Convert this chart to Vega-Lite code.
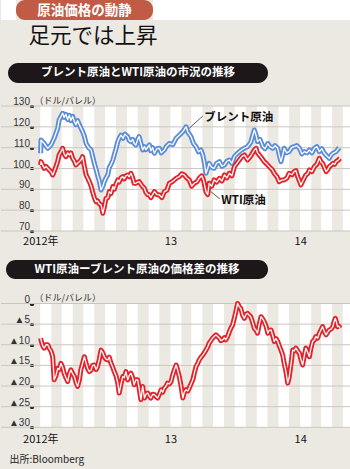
{
"$schema": "https://vega.github.io/schema/vega-lite/v6.json",
"padding": 0,
"autosize": {"type": "pad"},
"spacing": 0,
"bounds": "full",
"config": {"background": "#ece9e2", "view": {"stroke": null}, "concat": {"spacing": 0}, "text": {"font": "Noto Sans CJK JP"}},
"datasets": {
"stripes": [
{"s":"2012-01-01","e":"2012-02-01"},{"s":"2012-03-01","e":"2012-04-01"},{"s":"2012-05-01","e":"2012-06-01"},{"s":"2012-07-01","e":"2012-08-01"},{"s":"2012-09-01","e":"2012-10-01"},{"s":"2012-11-01","e":"2012-12-01"},
{"s":"2013-01-01","e":"2013-02-01"},{"s":"2013-03-01","e":"2013-04-01"},{"s":"2013-05-01","e":"2013-06-01"},{"s":"2013-07-01","e":"2013-08-01"},{"s":"2013-09-01","e":"2013-10-01"},{"s":"2013-11-01","e":"2013-12-01"},
{"s":"2014-01-01","e":"2014-02-01"},{"s":"2014-03-01","e":"2014-04-01"},{"s":"2014-05-01","e":"2014-06-01"}],
"g1": [{"g":70},{"g":80},{"g":90},{"g":100},{"g":110},{"g":120},{"g":130}],
"g2": [{"g":0},{"g":-5},{"g":-10},{"g":-15},{"g":-20},{"g":-25},{"g":-30}],
"brent": [
{"d":"2012-01-02","v":107.3},{"d":"2012-01-03","v":113.7},{"d":"2012-01-12","v":112},{"d":"2012-01-22","v":109.7},{"d":"2012-01-31","v":111.3},{"d":"2012-02-09","v":114.5},{"d":"2012-02-19","v":119.3},{"d":"2012-02-23","v":123.3},{"d":"2012-03-04","v":126.5},{"d":"2012-03-08","v":124.5},{"d":"2012-03-13","v":126},{"d":"2012-03-18","v":123.5},{"d":"2012-03-23","v":125.5},{"d":"2012-03-27","v":123},{"d":"2012-04-01","v":125},{"d":"2012-04-06","v":122.5},{"d":"2012-04-10","v":121},{"d":"2012-04-15","v":123},{"d":"2012-04-20","v":120.9},{"d":"2012-04-24","v":119.5},{"d":"2012-04-29","v":117.7},{"d":"2012-05-04","v":115.5},{"d":"2012-05-09","v":112},{"d":"2012-05-16","v":110},{"d":"2012-05-23","v":108.9},{"d":"2012-05-27","v":106},{"d":"2012-06-01","v":102.5},{"d":"2012-06-06","v":99.5},{"d":"2012-06-10","v":96.9},{"d":"2012-06-15","v":94},{"d":"2012-06-20","v":89.7},{"d":"2012-06-25","v":91.5},{"d":"2012-06-29","v":93.7},{"d":"2012-07-04","v":95.5},{"d":"2012-07-09","v":97},{"d":"2012-07-13","v":100.5},{"d":"2012-07-18","v":102},{"d":"2012-07-23","v":104},{"d":"2012-07-27","v":106.5},{"d":"2012-08-01","v":109.5},{"d":"2012-08-06","v":112.9},{"d":"2012-08-10","v":114.5},{"d":"2012-08-15","v":116},{"d":"2012-08-21","v":114.5},{"d":"2012-08-26","v":116.5},{"d":"2012-09-03","v":115.3},{"d":"2012-09-07","v":113.5},{"d":"2012-09-12","v":112.9},{"d":"2012-09-17","v":114},{"d":"2012-09-21","v":112},{"d":"2012-09-26","v":111.3},{"d":"2012-10-01","v":114},{"d":"2012-10-05","v":115.3},{"d":"2012-10-10","v":112},{"d":"2012-10-15","v":108.9},{"d":"2012-10-20","v":110.5},{"d":"2012-10-24","v":109},{"d":"2012-11-03","v":111.3},{"d":"2012-11-07","v":108.5},{"d":"2012-11-12","v":110},{"d":"2012-11-17","v":107.3},{"d":"2012-11-24","v":109.5},{"d":"2012-12-01","v":109.7},{"d":"2012-12-06","v":107.5},{"d":"2012-12-15","v":108.9},{"d":"2012-12-20","v":110.5},{"d":"2012-12-29","v":112},
{"d":"2013-01-08","v":111.5},{"d":"2013-01-17","v":114.5},{"d":"2013-01-26","v":116},{"d":"2013-02-05","v":117.7},{"d":"2013-02-14","v":120},{"d":"2013-02-19","v":117.5},{"d":"2013-02-28","v":115.3},{"d":"2013-03-07","v":112},{"d":"2013-03-14","v":110.5},{"d":"2013-03-21","v":108},{"d":"2013-03-28","v":108.9},{"d":"2013-04-02","v":106.5},{"d":"2013-04-06","v":103.3},{"d":"2013-04-11","v":97.7},{"d":"2013-04-16","v":100},{"d":"2013-04-20","v":102.5},{"d":"2013-04-27","v":100.5},{"d":"2013-05-04","v":100.1},{"d":"2013-05-11","v":102.5},{"d":"2013-05-19","v":103.3},{"d":"2013-05-26","v":101},{"d":"2013-06-02","v":101.7},{"d":"2013-06-09","v":103.5},{"d":"2013-06-16","v":104.1},{"d":"2013-06-23","v":102.5},{"d":"2013-06-30","v":105.7},{"d":"2013-07-07","v":107},{"d":"2013-07-14","v":108.1},{"d":"2013-07-21","v":109},{"d":"2013-07-28","v":109.7},{"d":"2013-08-06","v":110.5},{"d":"2013-08-15","v":112.5},{"d":"2013-08-25","v":118.5},{"d":"2013-08-30","v":116},{"d":"2013-09-03","v":112.9},{"d":"2013-09-10","v":114},{"d":"2013-09-18","v":110.5},{"d":"2013-09-24","v":109.5},{"d":"2013-10-02","v":112},{"d":"2013-10-08","v":110.5},{"d":"2013-10-16","v":109.7},{"d":"2013-10-22","v":111},{"d":"2013-10-30","v":109.7},{"d":"2013-11-03","v":106.5},{"d":"2013-11-08","v":103.3},{"d":"2013-11-13","v":106.5},{"d":"2013-11-17","v":109.7},{"d":"2013-11-24","v":107.5},{"d":"2013-12-01","v":108.1},{"d":"2013-12-08","v":110},{"d":"2013-12-15","v":110.5},{"d":"2013-12-23","v":111},{"d":"2013-12-30","v":109.7},
{"d":"2014-01-06","v":107},{"d":"2014-01-13","v":108.1},{"d":"2014-01-20","v":107.5},{"d":"2014-01-27","v":108.9},{"d":"2014-02-03","v":107.5},{"d":"2014-02-10","v":109.7},{"d":"2014-02-17","v":110.5},{"d":"2014-02-24","v":108.1},{"d":"2014-03-03","v":109.5},{"d":"2014-03-10","v":107.3},{"d":"2014-03-17","v":106},{"d":"2014-03-24","v":104.9},{"d":"2014-03-29","v":106.5},{"d":"2014-04-03","v":107.3},{"d":"2014-04-12","v":108.1},{"d":"2014-04-21","v":110}],
"wti": [
{"d":"2012-01-02","v":101.7},{"d":"2012-01-03","v":103.3},{"d":"2012-01-08","v":101.5},{"d":"2012-01-12","v":100.1},{"d":"2012-01-17","v":101},{"d":"2012-01-26","v":99.3},{"d":"2012-01-31","v":98.5},{"d":"2012-02-05","v":96.9},{"d":"2012-02-09","v":98.5},{"d":"2012-02-14","v":100.9},{"d":"2012-02-19","v":103.5},{"d":"2012-02-23","v":106.5},{"d":"2012-02-28","v":108},{"d":"2012-03-04","v":109.7},{"d":"2012-03-08","v":107},{"d":"2012-03-13","v":105.7},{"d":"2012-03-18","v":107.5},{"d":"2012-03-23","v":106.5},{"d":"2012-03-27","v":107.5},{"d":"2012-04-01","v":104.9},{"d":"2012-04-06","v":103.5},{"d":"2012-04-10","v":101.7},{"d":"2012-04-15","v":102.5},{"d":"2012-04-20","v":103.3},{"d":"2012-04-24","v":104},{"d":"2012-04-29","v":105.7},{"d":"2012-05-04","v":101},{"d":"2012-05-09","v":96.9},{"d":"2012-05-13","v":95.5},{"d":"2012-05-18","v":93.7},{"d":"2012-05-23","v":91.5},{"d":"2012-05-27","v":88.9},{"d":"2012-06-01","v":86},{"d":"2012-06-06","v":84.1},{"d":"2012-06-10","v":84.5},{"d":"2012-06-15","v":83},{"d":"2012-06-20","v":82.5},{"d":"2012-06-25","v":78.5},{"d":"2012-06-29","v":81.5},{"d":"2012-07-04","v":85.7},{"d":"2012-07-09","v":86},{"d":"2012-07-13","v":88.9},{"d":"2012-07-18","v":88},{"d":"2012-07-23","v":91.3},{"d":"2012-07-27","v":90},{"d":"2012-08-01","v":92.5},{"d":"2012-08-06","v":94.5},{"d":"2012-08-10","v":93.5},{"d":"2012-08-15","v":95.5},{"d":"2012-08-20","v":96.1},{"d":"2012-08-24","v":95},{"d":"2012-08-29","v":96.5},{"d":"2012-09-03","v":96.9},{"d":"2012-09-07","v":96},{"d":"2012-09-12","v":97.7},{"d":"2012-09-17","v":95.5},{"d":"2012-09-21","v":92.9},{"d":"2012-09-26","v":92.9},{"d":"2012-10-01","v":93.5},{"d":"2012-10-05","v":93.7},{"d":"2012-10-10","v":92.5},{"d":"2012-10-15","v":91.3},{"d":"2012-10-20","v":90.5},{"d":"2012-10-24","v":88.5},{"d":"2012-10-29","v":87.5},{"d":"2012-11-03","v":87.3},{"d":"2012-11-07","v":86},{"d":"2012-11-12","v":87.5},{"d":"2012-11-17","v":88.9},{"d":"2012-11-24","v":87.5},{"d":"2012-12-01","v":87.3},{"d":"2012-12-08","v":86},{"d":"2012-12-15","v":88.9},{"d":"2012-12-22","v":89.5},{"d":"2012-12-29","v":92.9},
{"d":"2013-01-05","v":93.5},{"d":"2013-01-12","v":94.5},{"d":"2013-01-19","v":95.5},{"d":"2013-01-26","v":96.1},{"d":"2013-02-02","v":97.5},{"d":"2013-02-09","v":96.9},{"d":"2013-02-16","v":95.5},{"d":"2013-02-23","v":94.5},{"d":"2013-03-02","v":91.5},{"d":"2013-03-09","v":92.9},{"d":"2013-03-16","v":93.5},{"d":"2013-03-23","v":95.3},{"d":"2013-03-30","v":96.5},{"d":"2013-04-04","v":94.5},{"d":"2013-04-11","v":88.9},{"d":"2013-04-16","v":87.5},{"d":"2013-04-20","v":92.9},{"d":"2013-04-27","v":91.5},{"d":"2013-05-04","v":94.5},{"d":"2013-05-11","v":93.5},{"d":"2013-05-19","v":95.3},{"d":"2013-05-26","v":94},{"d":"2013-06-02","v":96.9},{"d":"2013-06-09","v":95.5},{"d":"2013-06-16","v":97.7},{"d":"2013-06-23","v":96.5},{"d":"2013-06-30","v":100.9},{"d":"2013-07-07","v":102.5},{"d":"2013-07-14","v":104.1},{"d":"2013-07-21","v":105.7},{"d":"2013-07-28","v":106.5},{"d":"2013-08-06","v":104.1},{"d":"2013-08-15","v":106},{"d":"2013-08-25","v":108.9},{"d":"2013-08-30","v":109.7},{"d":"2013-09-03","v":107.5},{"d":"2013-09-08","v":106.5},{"d":"2013-09-15","v":105},{"d":"2013-09-22","v":103.3},{"d":"2013-09-30","v":102},{"d":"2013-10-06","v":100.9},{"d":"2013-10-14","v":99.5},{"d":"2013-10-20","v":97.7},{"d":"2013-10-28","v":96},{"d":"2013-11-03","v":93.7},{"d":"2013-11-11","v":94.5},{"d":"2013-11-17","v":94.5},{"d":"2013-11-25","v":95.5},{"d":"2013-12-01","v":97.7},{"d":"2013-12-09","v":97},{"d":"2013-12-15","v":98.5},{"d":"2013-12-20","v":99},{"d":"2013-12-25","v":96.1},{"d":"2013-12-30","v":94},
{"d":"2014-01-03","v":92.1},{"d":"2014-01-10","v":94.5},{"d":"2014-01-17","v":96.9},{"d":"2014-01-22","v":97.5},{"d":"2014-01-27","v":99.3},{"d":"2014-02-03","v":98.5},{"d":"2014-02-10","v":100.9},{"d":"2014-02-17","v":102},{"d":"2014-02-24","v":104.9},{"d":"2014-03-01","v":103},{"d":"2014-03-05","v":102.5},{"d":"2014-03-10","v":100.5},{"d":"2014-03-15","v":98.5},{"d":"2014-03-20","v":99.5},{"d":"2014-03-24","v":100.9},{"d":"2014-03-29","v":101.5},{"d":"2014-04-03","v":102.5},{"d":"2014-04-08","v":102},{"d":"2014-04-12","v":103.3},{"d":"2014-04-18","v":104},{"d":"2014-04-23","v":104.9}],
"spread": [
{"d":"2012-01-02","v":-8.4},{"d":"2012-01-04","v":-9.2},{"d":"2012-01-09","v":-10.5},{"d":"2012-01-12","v":-10.8},{"d":"2012-01-17","v":-10},{"d":"2012-01-22","v":-10},{"d":"2012-01-26","v":-10.8},{"d":"2012-01-31","v":-11.5},{"d":"2012-02-05","v":-12.9},{"d":"2012-02-09","v":-18.5},{"d":"2012-02-14","v":-17.5},{"d":"2012-02-19","v":-15.7},{"d":"2012-02-23","v":-16},{"d":"2012-02-28","v":-14.5},{"d":"2012-03-04","v":-15.5},{"d":"2012-03-08","v":-16.9},{"d":"2012-03-13","v":-18},{"d":"2012-03-18","v":-18.9},{"d":"2012-03-23","v":-17},{"d":"2012-03-27","v":-16.1},{"d":"2012-04-01","v":-17},{"d":"2012-04-06","v":-17.7},{"d":"2012-04-10","v":-19},{"d":"2012-04-15","v":-20.1},{"d":"2012-04-20","v":-18.5},{"d":"2012-04-24","v":-16.1},{"d":"2012-04-29","v":-14.5},{"d":"2012-05-04","v":-12.9},{"d":"2012-05-09","v":-14.5},{"d":"2012-05-13","v":-15.7},{"d":"2012-05-18","v":-16.5},{"d":"2012-05-23","v":-16.1},{"d":"2012-05-27","v":-15},{"d":"2012-06-01","v":-14.9},{"d":"2012-06-06","v":-16},{"d":"2012-06-10","v":-15.3},{"d":"2012-06-15","v":-13.5},{"d":"2012-06-20","v":-11.3},{"d":"2012-06-25","v":-12},{"d":"2012-06-29","v":-12.9},{"d":"2012-07-04","v":-13.5},{"d":"2012-07-09","v":-13.7},{"d":"2012-07-13","v":-13},{"d":"2012-07-18","v":-14.5},{"d":"2012-07-23","v":-15.5},{"d":"2012-07-27","v":-16.5},{"d":"2012-08-01","v":-17.5},{"d":"2012-08-06","v":-19.3},{"d":"2012-08-10","v":-21.7},{"d":"2012-08-15","v":-19.5},{"d":"2012-08-20","v":-17.7},{"d":"2012-08-24","v":-18},{"d":"2012-08-29","v":-16.5},{"d":"2012-09-03","v":-18.5},{"d":"2012-09-07","v":-17.5},{"d":"2012-09-12","v":-16.9},{"d":"2012-09-17","v":-18},{"d":"2012-09-21","v":-19.7},{"d":"2012-09-26","v":-18.5},{"d":"2012-10-01","v":-18.5},{"d":"2012-10-05","v":-20.5},{"d":"2012-10-10","v":-23.3},{"d":"2012-10-15","v":-20.1},{"d":"2012-10-20","v":-22.9},{"d":"2012-10-24","v":-22},{"d":"2012-10-29","v":-21.7},{"d":"2012-11-03","v":-22.5},{"d":"2012-11-07","v":-22.9},{"d":"2012-11-12","v":-22},{"d":"2012-11-17","v":-22.1},{"d":"2012-11-21","v":-22.5},{"d":"2012-11-26","v":-22.9},{"d":"2012-12-01","v":-22},{"d":"2012-12-06","v":-20.9},{"d":"2012-12-10","v":-21.5},{"d":"2012-12-15","v":-20.5},{"d":"2012-12-20","v":-20},{"d":"2012-12-24","v":-19.3},{"d":"2012-12-29","v":-19.5},
{"d":"2013-01-03","v":-18.9},{"d":"2013-01-07","v":-17.5},{"d":"2013-01-12","v":-16.1},{"d":"2013-01-17","v":-14.9},{"d":"2013-01-21","v":-16},{"d":"2013-01-26","v":-17.7},{"d":"2013-01-31","v":-20},{"d":"2013-02-05","v":-22.9},{"d":"2013-02-09","v":-21.5},{"d":"2013-02-14","v":-20.9},{"d":"2013-02-19","v":-21.2},{"d":"2013-02-23","v":-20.5},{"d":"2013-02-28","v":-19.5},{"d":"2013-03-05","v":-18.5},{"d":"2013-03-09","v":-17},{"d":"2013-03-14","v":-15.3},{"d":"2013-03-19","v":-14.5},{"d":"2013-03-23","v":-13.7},{"d":"2013-03-28","v":-13},{"d":"2013-04-02","v":-12.5},{"d":"2013-04-06","v":-12},{"d":"2013-04-11","v":-11.3},{"d":"2013-04-16","v":-10.5},{"d":"2013-04-20","v":-9.6},{"d":"2013-04-25","v":-9},{"d":"2013-04-30","v":-8.4},{"d":"2013-05-04","v":-8},{"d":"2013-05-09","v":-7.6},{"d":"2013-05-14","v":-8},{"d":"2013-05-19","v":-8.4},{"d":"2013-05-23","v":-9},{"d":"2013-05-28","v":-8.8},{"d":"2013-06-02","v":-8.3},{"d":"2013-06-06","v":-8.8},{"d":"2013-06-11","v":-8},{"d":"2013-06-16","v":-6.8},{"d":"2013-06-20","v":-6},{"d":"2013-06-25","v":-5.2},{"d":"2013-06-30","v":-3.5},{"d":"2013-07-04","v":-2},{"d":"2013-07-09","v":0},{"d":"2013-07-14","v":-0.8},{"d":"2013-07-18","v":-1.2},{"d":"2013-07-23","v":-2.8},{"d":"2013-07-28","v":-3.6},{"d":"2013-08-02","v":-2.6},{"d":"2013-08-06","v":-2.4},{"d":"2013-08-11","v":-2.9},{"d":"2013-08-15","v":-3.2},{"d":"2013-08-20","v":-4.5},{"d":"2013-08-25","v":-6},{"d":"2013-08-30","v":-6.5},{"d":"2013-09-03","v":-7.2},{"d":"2013-09-08","v":-5},{"d":"2013-09-13","v":-3.2},{"d":"2013-09-18","v":-3.8},{"d":"2013-09-22","v":-4.4},{"d":"2013-09-27","v":-5.5},{"d":"2013-10-02","v":-7.2},{"d":"2013-10-06","v":-6.5},{"d":"2013-10-11","v":-6.4},{"d":"2013-10-16","v":-7.8},{"d":"2013-10-20","v":-9.2},{"d":"2013-10-25","v":-8.5},{"d":"2013-10-30","v":-9.2},{"d":"2013-11-03","v":-10.2},{"d":"2013-11-08","v":-11.3},{"d":"2013-11-13","v":-12.5},{"d":"2013-11-17","v":-14.5},{"d":"2013-11-22","v":-16.5},{"d":"2013-11-27","v":-19.3},{"d":"2013-12-01","v":-18},{"d":"2013-12-04","v":-16.1},{"d":"2013-12-08","v":-13.5},{"d":"2013-12-11","v":-11.3},{"d":"2013-12-15","v":-11.5},{"d":"2013-12-20","v":-10.8},{"d":"2013-12-25","v":-11.5},{"d":"2013-12-30","v":-12.1},
{"d":"2014-01-03","v":-13.5},{"d":"2014-01-08","v":-14.9},{"d":"2014-01-13","v":-12.5},{"d":"2014-01-17","v":-10.8},{"d":"2014-01-22","v":-11.8},{"d":"2014-01-27","v":-12.9},{"d":"2014-01-31","v":-11},{"d":"2014-02-05","v":-9.2},{"d":"2014-02-10","v":-8.8},{"d":"2014-02-14","v":-8},{"d":"2014-02-19","v":-8.4},{"d":"2014-02-24","v":-7.2},{"d":"2014-02-28","v":-6.5},{"d":"2014-03-05","v":-5.6},{"d":"2014-03-10","v":-6.8},{"d":"2014-03-15","v":-7.6},{"d":"2014-03-19","v":-7},{"d":"2014-03-24","v":-6.4},{"d":"2014-03-29","v":-6.2},{"d":"2014-04-03","v":-5.6},{"d":"2014-04-06","v":-4.5},{"d":"2014-04-10","v":-3.6},{"d":"2014-04-13","v":-4.5},{"d":"2014-04-16","v":-5.6},{"d":"2014-04-20","v":-5.5},{"d":"2014-04-23","v":-6}],
"lab1": [{"d":"2013-04-06","v":124.2,"t":"ブレント原油"},{"d":"2013-05-24","v":84.4,"t":"WTI原油"}],
"lead1": [{"d":"2013-02-23","v":119.3,"d2":"2013-04-02","v2":125.2},{"d":"2013-04-25","v":88.9,"d2":"2013-05-20","v2":85.4}]
},
"vconcat": [
{"hconcat": [
 {"width": 15, "height": 20, "view": {"fill": "#ffffff", "stroke": null}, "data": {"values": [{}]}, "mark": "text", "encoding": {"text": {"value": ""}}},
 {"width": 137, "height": 20, "view": {"fill": "#c15b45", "stroke": null, "cornerRadius": 9}, "data": {"values": [{"t": "原油価格の動静"}]}, "mark": {"type": "text", "color": "#ffffff", "fontSize": 13.5, "fontWeight": "bold", "font": "Noto Sans CJK JP", "dy": 1}, "encoding": {"text": {"field": "t", "type": "nominal"}}},
 {"width": 198, "height": 20, "view": {"fill": "#ffffff", "stroke": null}, "data": {"values": [{}]}, "mark": "text", "encoding": {"text": {"value": ""}}}
], "spacing": 0, "bounds": "full"},
{"hconcat": [
 {"width": 27, "height": 43, "data": {"values": [{}]}, "mark": "text", "encoding": {"text": {"value": ""}}},
 {"width": 128, "height": 34, "data": {"values": [{"t": "足元では上昇"}]}, "mark": {"type": "text", "color": "#111111", "fontSize": 21.5, "font": "Noto Sans CJK JP"}, "encoding": {"text": {"field": "t", "type": "nominal"}}},
 {"width": 195, "height": 43, "data": {"values": [{}]}, "mark": "text", "encoding": {"text": {"value": ""}}}
], "spacing": 0, "bounds": "full"},
{"hconcat": [
 {"width": 7, "height": 20, "data": {"values": [{}]}, "mark": "text", "encoding": {"text": {"value": ""}}},
 {"width": 260, "height": 20, "view": {"fill": "#1d1719", "stroke": null, "cornerRadius": 10}, "data": {"values": [{"t": "ブレント原油とWTI原油の市況の推移"}]}, "mark": {"type": "text", "color": "#ffffff", "fontSize": 11.5, "fontWeight": "bold", "font": "Noto Sans CJK JP"}, "encoding": {"text": {"field": "t", "type": "nominal"}}},
 {"width": 83, "height": 20, "data": {"values": [{}]}, "mark": "text", "encoding": {"text": {"value": ""}}}
], "spacing": 0, "bounds": "full"},
{"width": 350, "height": 177,
 "layer": [
  {"data": {"name": "stripes"}, "mark": {"type": "rect", "color": "#ffffff", "clip": true},
   "encoding": {
    "x": {"field": "s", "type": "temporal", "scale": {"type": "utc", "domain": [{"year": 2011, "month": 9, "date": 12, "hours": 12, "utc": true}, {"year": 2014, "month": 5, "date": 24, "utc": true}]},
      "axis": {"values": [{"year": 2012, "month": 1, "date": 1, "utc": true}, {"year": 2013, "month": 1, "date": 1, "utc": true}, {"year": 2014, "month": 1, "date": 1, "utc": true}], "tickCount": 20,
        "labelExpr": "utcyear(datum.value) == 2012 ? '2012年' : '' + (utcyear(datum.value) - 2000)",
        "offset": -29, "domain": false, "ticks": false, "tickSize": 0, "grid": false, "labelPadding": 4, "labelFlush": false, "labelOverlap": false,
        "labelFont": "Liberation Sans Narrow, Noto Sans CJK JP, sans-serif", "labelFontSize": 11, "labelColor": "#111111", "title": null}},
    "x2": {"field": "e"},
    "y": {"datum": 130, "type": "quantitative", "scale": {"domain": [56.08, 141.04], "nice": false, "zero": false}},
    "y2": {"datum": 70}
   }},
  {"data": {"name": "g1"}, "mark": {"type": "rule", "color": "#cbc7c0", "strokeWidth": 1},
   "encoding": {"y": {"field": "g", "type": "quantitative",
     "axis": {"values": [70, 80, 90, 100, 110, 120, 130], "tickCount": 20, "labelOverlap": false, "labelBound": false, "offset": -31, "domain": false, "grid": false, "ticks": true, "tickSize": 1, "tickWidth": 3.2, "tickCap": "round", "tickColor": "#222222",
       "labelPadding": 1.5, "labelFont": "Liberation Sans", "labelFontSize": 10, "labelColor": "#333333", "labelBaseline": "alphabetic", "labelOffset": -1.5,
       "title": "（ドル/バレル）", "titleX": 2, "titleY": 17, "titleAngle": 0, "titleAlign": "left", "titleBaseline": "middle", "titleFont": "Noto Sans CJK JP", "titleFontSize": 9, "titleFontWeight": "normal", "titleColor": "#333333"}}}},
  {"data": {"name": "brent"}, "mark": {"type": "line", "color": "#5b8dd9", "strokeWidth": 5, "strokeJoin": "round"},
   "encoding": {"x": {"field": "d", "type": "temporal"}, "y": {"field": "v", "type": "quantitative"}}},
  {"data": {"name": "brent"}, "mark": {"type": "line", "color": "#ffffff", "strokeWidth": 1.3, "strokeJoin": "round"},
   "encoding": {"x": {"field": "d", "type": "temporal"}, "y": {"field": "v", "type": "quantitative"}}},
  {"data": {"name": "wti"}, "mark": {"type": "line", "color": "#e3222a", "strokeWidth": 5, "strokeJoin": "round"},
   "encoding": {"x": {"field": "d", "type": "temporal"}, "y": {"field": "v", "type": "quantitative"}}},
  {"data": {"name": "wti"}, "mark": {"type": "line", "color": "#ffffff", "strokeWidth": 1.3, "strokeJoin": "round"},
   "encoding": {"x": {"field": "d", "type": "temporal"}, "y": {"field": "v", "type": "quantitative"}}},
  {"data": {"name": "lead1"}, "mark": {"type": "rule", "color": "#333333", "strokeWidth": 0.8},
   "encoding": {"x": {"field": "d", "type": "temporal"}, "x2": {"field": "d2"}, "y": {"field": "v", "type": "quantitative"}, "y2": {"field": "v2"}}},
  {"data": {"name": "lab1"}, "mark": {"type": "text", "align": "left", "baseline": "middle", "fontSize": 11.5, "fontWeight": "bold", "color": "#111111", "font": "Noto Sans CJK JP"},
   "encoding": {"x": {"field": "d", "type": "temporal"}, "y": {"field": "v", "type": "quantitative"}, "text": {"field": "t", "type": "nominal"}}}
 ]},
{"hconcat": [
 {"width": 5, "height": 19, "data": {"values": [{}]}, "mark": "text", "encoding": {"text": {"value": ""}}},
 {"width": 262, "height": 19, "view": {"fill": "#1d1719", "stroke": null, "cornerRadius": 9.5}, "data": {"values": [{"t": "WTI原油ーブレント原油の価格差の推移"}]}, "mark": {"type": "text", "color": "#ffffff", "fontSize": 11.5, "fontWeight": "bold", "font": "Noto Sans CJK JP"}, "encoding": {"text": {"field": "t", "type": "nominal"}}},
 {"width": 83, "height": 19, "data": {"values": [{}]}, "mark": "text", "encoding": {"text": {"value": ""}}}
], "spacing": 0, "bounds": "full"},
{"width": 350, "height": 190,
 "layer": [
  {"data": {"name": "stripes"}, "mark": {"type": "rect", "color": "#ffffff", "clip": true},
   "encoding": {
    "x": {"field": "s", "type": "temporal", "scale": {"type": "utc", "domain": [{"year": 2011, "month": 9, "date": 12, "hours": 12, "utc": true}, {"year": 2014, "month": 5, "date": 24, "utc": true}]},
      "axis": {"values": [{"year": 2012, "month": 1, "date": 1, "utc": true}, {"year": 2013, "month": 1, "date": 1, "utc": true}, {"year": 2014, "month": 1, "date": 1, "utc": true}], "tickCount": 20,
        "labelExpr": "utcyear(datum.value) == 2012 ? '2012年' : '' + (utcyear(datum.value) - 2000)",
        "offset": -41.7, "domain": false, "ticks": false, "tickSize": 0, "grid": false, "labelPadding": 6, "labelFlush": false, "labelOverlap": false,
        "labelFont": "Liberation Sans Narrow, Noto Sans CJK JP, sans-serif", "labelFontSize": 11, "labelColor": "#111111",
        "title": "出所:Bloomberg", "titleX": 8, "titleY": 31.7, "titleAlign": "left", "titleBaseline": "middle", "titleFont": "Noto Sans CJK JP", "titleFontSize": 10, "titleFontWeight": "normal", "titleColor": "#222222"}},
    "x2": {"field": "e"},
    "y": {"datum": 0, "type": "quantitative", "scale": {"domain": [-40.105, 5.937], "nice": false, "zero": false}},
    "y2": {"datum": -30}
   }},
  {"data": {"name": "g2"}, "mark": {"type": "rule", "color": "#cbc7c0", "strokeWidth": 1},
   "encoding": {"y": {"field": "g", "type": "quantitative",
     "axis": {"values": [0, -5, -10, -15, -20, -25, -30], "tickCount": 20, "labelOverlap": false, "labelBound": false, "labelExpr": "datum.value == 0 ? '0' : '▲' + (-datum.value)", "offset": -31, "domain": false, "grid": false, "ticks": true, "tickSize": 1, "tickWidth": 3.2, "tickCap": "round", "tickColor": "#222222",
       "labelPadding": 1.5, "labelFont": "Liberation Sans", "labelFontSize": 10, "labelColor": "#333333", "labelBaseline": "alphabetic", "labelOffset": -1.5,
       "title": "（ドル/バレル）", "titleX": 2, "titleY": 18, "titleAngle": 0, "titleAlign": "left", "titleBaseline": "middle", "titleFont": "Noto Sans CJK JP", "titleFontSize": 9, "titleFontWeight": "normal", "titleColor": "#333333"}}}},
  {"data": {"name": "spread"}, "mark": {"type": "line", "color": "#e3222a", "strokeWidth": 5, "strokeJoin": "round"},
   "encoding": {"x": {"field": "d", "type": "temporal"}, "y": {"field": "v", "type": "quantitative"}}},
  {"data": {"name": "spread"}, "mark": {"type": "line", "color": "#ffffff", "strokeWidth": 1.3, "strokeJoin": "round"},
   "encoding": {"x": {"field": "d", "type": "temporal"}, "y": {"field": "v", "type": "quantitative"}}}
 ]}
]
}
